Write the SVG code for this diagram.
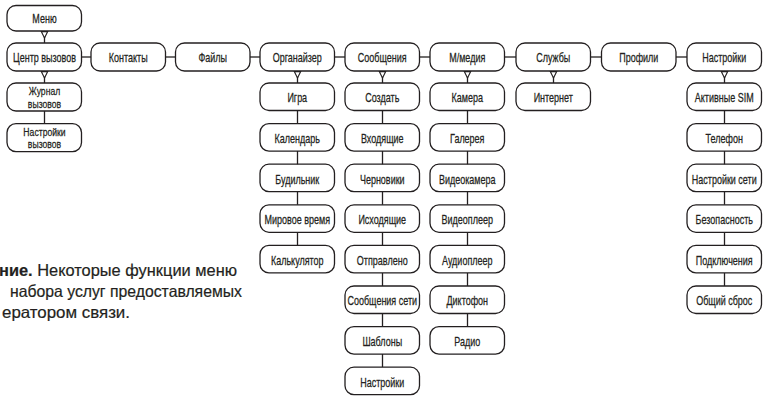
<svg xmlns="http://www.w3.org/2000/svg" width="763" height="396" viewBox="0 0 763 396">
<style>
.b{fill:#fff;stroke:#231f20;stroke-width:1.3}
.t{font-family:"Liberation Sans",Arial,sans-serif;font-size:12px;fill:#231f20;stroke:#231f20;stroke-width:0.25;text-anchor:middle}
.s{font-size:11.5px}
.c{stroke:#231f20;stroke-width:1.3;fill:none}
.a{fill:#fff;stroke:#231f20;stroke-width:1.1}
.cap{font-family:"Liberation Sans",Arial,sans-serif;font-size:16.5px;fill:#231f20;stroke:#231f20;stroke-width:0.2}
</style>
<g id="connectors">
<line class="c" x1="44.5" y1="31" x2="44.5" y2="43"/>
<path class="a" d="M41.3,31.6 L47.7,31.6 L44.5,38 Z"/>
<line class="c" x1="44.5" y1="71" x2="44.5" y2="83"/>
<path class="a" d="M41.3,71.6 L47.7,71.6 L44.5,78 Z"/>
<line class="c" x1="44.5" y1="111" x2="44.5" y2="123.6"/>
<line class="c" x1="81.5" y1="57" x2="91" y2="57"/>
<line class="c" x1="165.5" y1="57" x2="175.5" y2="57"/>
<line class="c" x1="250" y1="57" x2="260" y2="57"/>
<line class="c" x1="334.5" y1="57" x2="345" y2="57"/>
<line class="c" x1="419.5" y1="57" x2="430" y2="57"/>
<line class="c" x1="504.5" y1="57" x2="516" y2="57"/>
<line class="c" x1="590.5" y1="57" x2="601.5" y2="57"/>
<line class="c" x1="676" y1="57" x2="687" y2="57"/>
<line class="c" x1="297.5" y1="71" x2="297.5" y2="83"/>
<path class="a" d="M294.3,71.6 L300.7,71.6 L297.5,78 Z"/>
<line class="c" x1="297.5" y1="110.5" x2="297.5" y2="245.4"/>
<line class="c" x1="382.5" y1="71" x2="382.5" y2="83"/>
<path class="a" d="M379.3,71.6 L385.7,71.6 L382.5,78 Z"/>
<line class="c" x1="382.5" y1="110.5" x2="382.5" y2="367.2"/>
<line class="c" x1="467.5" y1="71" x2="467.5" y2="83"/>
<path class="a" d="M464.3,71.6 L470.7,71.6 L467.5,78 Z"/>
<line class="c" x1="467.5" y1="110.5" x2="467.5" y2="326.6"/>
<line class="c" x1="553.5" y1="71" x2="553.5" y2="83"/>
<path class="a" d="M550.3,71.6 L556.7,71.6 L553.5,78 Z"/>
<line class="c" x1="724.5" y1="71" x2="724.5" y2="83"/>
<path class="a" d="M721.3,71.6 L727.7,71.6 L724.5,78 Z"/>
<line class="c" x1="724.5" y1="110.5" x2="724.5" y2="286"/>
</g>

<g id="menu"><rect class="b" x="7" y="5.5" width="74.5" height="25.5" rx="9"/><text class="t" transform="translate(44.5,23) scale(0.75,1)">Меню</text></g>
<g id="call-center"><rect class="b" x="7" y="43" width="74.5" height="28" rx="9"/><text class="t" transform="translate(44.5,62) scale(0.75,1)">Центр вызовов</text></g>
<g id="call-log"><rect class="b" x="7" y="83" width="74.5" height="28" rx="9"/><text class="t s" transform="translate(44.5,95) scale(0.75,1)">Журнал</text><text class="t s" transform="translate(44.5,107.5) scale(0.75,1)">вызовов</text></g>
<g id="call-settings"><rect class="b" x="7" y="123.6" width="74.5" height="28" rx="9"/><text class="t s" transform="translate(44.5,135.6) scale(0.75,1)">Настройки</text><text class="t s" transform="translate(44.5,148.1) scale(0.75,1)">вызовов</text></g>

<g id="contacts"><rect class="b" x="91" y="43" width="74.5" height="28" rx="9"/><text class="t" transform="translate(128.25,62) scale(0.75,1)">Контакты</text></g>
<g id="files"><rect class="b" x="175.5" y="43" width="74.5" height="28" rx="9"/><text class="t" transform="translate(212.75,62) scale(0.75,1)">Файлы</text></g>

<g id="organizer"><rect class="b" x="260" y="43" width="74.5" height="28" rx="9"/><text class="t" transform="translate(297.25,62) scale(0.75,1)">Органайзер</text></g>
<g id="game"><rect class="b" x="260" y="83" width="74.5" height="27.5" rx="9"/><text class="t" transform="translate(297.25,102.3) scale(0.75,1)">Игра</text></g>
<g id="calendar"><rect class="b" x="260" y="123.6" width="74.5" height="27.5" rx="9"/><text class="t" transform="translate(297.25,142.9) scale(0.75,1)">Календарь</text></g>
<g id="alarm"><rect class="b" x="260" y="164.2" width="74.5" height="27.5" rx="9"/><text class="t" transform="translate(297.25,183.5) scale(0.75,1)">Будильник</text></g>
<g id="world-time"><rect class="b" x="260" y="204.8" width="74.5" height="27.5" rx="9"/><text class="t" transform="translate(297.25,224.1) scale(0.75,1)">Мировое время</text></g>
<g id="calculator"><rect class="b" x="260" y="245.4" width="74.5" height="27.5" rx="9"/><text class="t" transform="translate(297.25,264.7) scale(0.75,1)">Калькулятор</text></g>

<g id="messages"><rect class="b" x="345" y="43" width="74.5" height="28" rx="9"/><text class="t" transform="translate(382.25,62) scale(0.75,1)">Сообщения</text></g>
<g id="create"><rect class="b" x="345" y="83" width="74.5" height="27.5" rx="9"/><text class="t" transform="translate(382.25,102.3) scale(0.75,1)">Создать</text></g>
<g id="inbox"><rect class="b" x="345" y="123.6" width="74.5" height="27.5" rx="9"/><text class="t" transform="translate(382.25,142.9) scale(0.75,1)">Входящие</text></g>
<g id="drafts"><rect class="b" x="345" y="164.2" width="74.5" height="27.5" rx="9"/><text class="t" transform="translate(382.25,183.5) scale(0.75,1)">Черновики</text></g>
<g id="outbox"><rect class="b" x="345" y="204.8" width="74.5" height="27.5" rx="9"/><text class="t" transform="translate(382.25,224.1) scale(0.75,1)">Исходящие</text></g>
<g id="sent"><rect class="b" x="345" y="245.4" width="74.5" height="27.5" rx="9"/><text class="t" transform="translate(382.25,264.7) scale(0.75,1)">Отправлено</text></g>
<g id="network-msgs"><rect class="b" x="345" y="286" width="74.5" height="27.5" rx="9"/><text class="t" transform="translate(382.25,305.3) scale(0.75,1)">Сообщения сети</text></g>
<g id="templates"><rect class="b" x="345" y="326.6" width="74.5" height="27.5" rx="9"/><text class="t" transform="translate(382.25,345.9) scale(0.75,1)">Шаблоны</text></g>
<g id="msg-settings"><rect class="b" x="345" y="367.2" width="74.5" height="27.5" rx="9"/><text class="t" transform="translate(382.25,386.5) scale(0.75,1)">Настройки</text></g>

<g id="media"><rect class="b" x="430" y="43" width="74.5" height="28" rx="9"/><text class="t" transform="translate(467.25,62) scale(0.75,1)">М/медия</text></g>
<g id="camera"><rect class="b" x="430" y="83" width="74.5" height="27.5" rx="9"/><text class="t" transform="translate(467.25,102.3) scale(0.75,1)">Камера</text></g>
<g id="gallery"><rect class="b" x="430" y="123.6" width="74.5" height="27.5" rx="9"/><text class="t" transform="translate(467.25,142.9) scale(0.75,1)">Галерея</text></g>
<g id="videocamera"><rect class="b" x="430" y="164.2" width="74.5" height="27.5" rx="9"/><text class="t" transform="translate(467.25,183.5) scale(0.75,1)">Видеокамера</text></g>
<g id="videoplayer"><rect class="b" x="430" y="204.8" width="74.5" height="27.5" rx="9"/><text class="t" transform="translate(467.25,224.1) scale(0.75,1)">Видеоплеер</text></g>
<g id="audioplayer"><rect class="b" x="430" y="245.4" width="74.5" height="27.5" rx="9"/><text class="t" transform="translate(467.25,264.7) scale(0.75,1)">Аудиоплеер</text></g>
<g id="dictaphone"><rect class="b" x="430" y="286" width="74.5" height="27.5" rx="9"/><text class="t" transform="translate(467.25,305.3) scale(0.75,1)">Диктофон</text></g>
<g id="radio"><rect class="b" x="430" y="326.6" width="74.5" height="27.5" rx="9"/><text class="t" transform="translate(467.25,345.9) scale(0.75,1)">Радио</text></g>

<g id="services"><rect class="b" x="516" y="43" width="74.5" height="28" rx="9"/><text class="t" transform="translate(553.25,62) scale(0.75,1)">Службы</text></g>
<g id="internet"><rect class="b" x="516" y="83" width="74.5" height="27.5" rx="9"/><text class="t" transform="translate(553.25,102.3) scale(0.75,1)">Интернет</text></g>

<g id="profiles"><rect class="b" x="601.5" y="43" width="74.5" height="28" rx="9"/><text class="t" transform="translate(638.75,62) scale(0.75,1)">Профили</text></g>

<g id="settings"><rect class="b" x="687" y="43" width="74.5" height="28" rx="9"/><text class="t" transform="translate(724.25,62) scale(0.75,1)">Настройки</text></g>
<g id="active-sim"><rect class="b" x="687" y="83" width="74.5" height="27.5" rx="9"/><text class="t" transform="translate(724.25,102.3) scale(0.75,1)">Активные SIM</text></g>
<g id="phone"><rect class="b" x="687" y="123.6" width="74.5" height="27.5" rx="9"/><text class="t" transform="translate(724.25,142.9) scale(0.75,1)">Телефон</text></g>
<g id="net-settings"><rect class="b" x="687" y="164.2" width="74.5" height="27.5" rx="9"/><text class="t" transform="translate(724.25,183.5) scale(0.75,1)">Настройки сети</text></g>
<g id="security"><rect class="b" x="687" y="204.8" width="74.5" height="27.5" rx="9"/><text class="t" transform="translate(724.25,224.1) scale(0.75,1)">Безопасность</text></g>
<g id="connections"><rect class="b" x="687" y="245.4" width="74.5" height="27.5" rx="9"/><text class="t" transform="translate(724.25,264.7) scale(0.75,1)">Подключения</text></g>
<g id="reset"><rect class="b" x="687" y="286" width="74.5" height="27.5" rx="9"/><text class="t" transform="translate(724.25,305.3) scale(0.75,1)">Общий сброс</text></g>

<g id="caption">
<text class="cap" x="-1" y="276" textLength="238" lengthAdjust="spacingAndGlyphs"><tspan font-weight="bold">ние.</tspan> Некоторые функции меню</text>
<text class="cap" x="10" y="297" textLength="232" lengthAdjust="spacingAndGlyphs">набора услуг предоставляемых</text>
<text class="cap" x="2" y="318" textLength="128" lengthAdjust="spacingAndGlyphs">ератором связи.</text>
</g>
</svg>
